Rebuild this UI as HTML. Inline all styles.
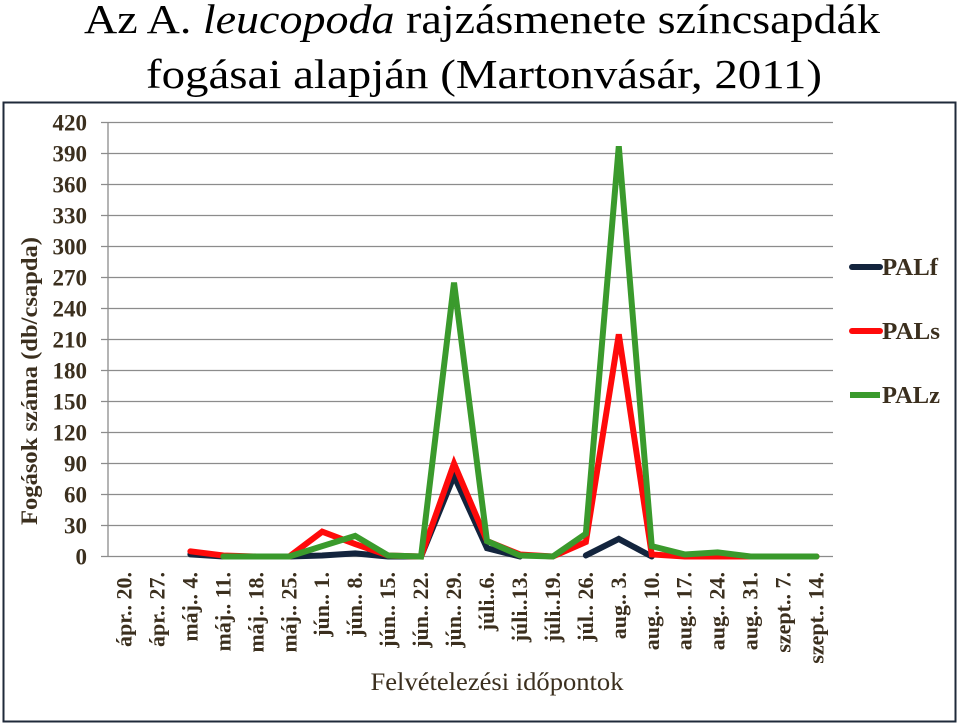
<!DOCTYPE html>
<html><head><meta charset="utf-8"><style>
body{margin:0;background:#fff;}
svg{display:block;font-family:"Liberation Serif",serif;}
</style></head><body>
<svg width="960" height="725">
<rect x="3.5" y="102.5" width="952" height="619" fill="none" stroke="#1f2a3a" stroke-width="2"/>
<text x="482" y="33" font-size="41" text-anchor="middle" fill="#000" textLength="796" lengthAdjust="spacingAndGlyphs">Az A. <tspan font-style="italic">leucopoda</tspan> rajzásmenete színcsapdák</text>
<text x="484" y="88" font-size="41" text-anchor="middle" fill="#000" textLength="676" lengthAdjust="spacingAndGlyphs">fogásai alapján (Martonvásár, 2011)</text>
<g id="grid"></g><g id="yt"></g><g id="xt"></g><g id="series"></g>
<text transform="translate(37,381) rotate(-90)" font-size="23" font-weight="bold" text-anchor="middle" fill="#3b2f1e" textLength="288" lengthAdjust="spacingAndGlyphs">Fogások száma (db/csapda)</text>
<text x="497" y="690" font-size="25" text-anchor="middle" fill="#3b2f1e" textLength="253" lengthAdjust="spacingAndGlyphs">Felvételezési időpontok</text>
<g>
<line x1="852" y1="267" x2="880" y2="267" stroke="#13243d" stroke-width="6" stroke-linecap="round"/>
<text x="882" y="275" font-size="24" font-weight="bold" fill="#3b2f1e" textLength="56" lengthAdjust="spacingAndGlyphs">PALf</text>
<line x1="852" y1="331" x2="880" y2="331" stroke="#ff0a0a" stroke-width="6" stroke-linecap="round"/>
<text x="882" y="339" font-size="24" font-weight="bold" fill="#3b2f1e" textLength="58" lengthAdjust="spacingAndGlyphs">PALs</text>
<line x1="850" y1="395" x2="880" y2="395" stroke="#3a9a2c" stroke-width="6"/>
<text x="882" y="403" font-size="24" font-weight="bold" fill="#3b2f1e" textLength="58" lengthAdjust="spacingAndGlyphs">PALz</text>
</g>
</svg>
<script>
const categories=["ápr.. 20.","ápr.. 27.","máj.. 4.","máj.. 11.","máj.. 18.","máj.. 25.","jún.. 1.","jún.. 8.","jún.. 15.","jún.. 22.","jún.. 29.","júli..6.","júli..13.","júli..19.","júl.. 26.","aug.. 3.","aug.. 10.","aug.. 17.","aug.. 24.","aug.. 31.","szept.. 7.","szept.. 14."];
const yTicks=[0,30,60,90,120,150,180,210,240,270,300,330,360,390,420];
const palf=[null,null,2,0,0,0,1,3,0,0,78,8,0,null,1,17,0,null,null,null,null,null];
const pals=[null,null,5,1,0,0,24,12,1,0,90,15,2,0,14,215,2,0,0,0,0,0];
const palz=[null,null,null,0,0,0,10,20,1,0,265,15,1,0,22,397,10,2,4,0,0,0];
const NS="http://www.w3.org/2000/svg";
const L=108,R=833,T=122.5,B=556.5,YMAX=420;
const xs=i=>L+(i+0.5)*(R-L)/categories.length;
const ys=v=>B-(v/YMAX)*(B-T);
function mk(t,a,p){const e=document.createElementNS(NS,t);for(const k in a)e.setAttribute(k,a[k]);p.appendChild(e);return e;}
const g=document.getElementById('grid'),yt=document.getElementById('yt'),xt=document.getElementById('xt'),sg=document.getElementById('series');
yTicks.forEach(v=>{
 const l=mk('line',{x1:101,x2:R,y1:ys(v),y2:ys(v),stroke:'#8c8c8c','stroke-width':1.3},g);
 
 
 const t=mk('text',{x:87,y:ys(v)+8,'font-size':23,'font-weight':'bold','text-anchor':'end',fill:'#3b2f1e'},yt);
 t.textContent=v;
 
 
});
const ax=mk('line',{x1:L,x2:L,y1:T,y2:B,stroke:'#8c8c8c','stroke-width':1.3},g);


categories.forEach((c,i)=>{
 const t=mk('text',{transform:`translate(${xs(i)+7},572) rotate(-90)`,'font-size':22,'font-weight':'bold','text-anchor':'end',fill:'#3b2f1e'},xt);
 t.textContent=c;
 
 
});
function draw(d,col,name){
 let seg=[];const segs=[];
 d.forEach((v,i)=>{if(v===null){if(seg.length)segs.push(seg);seg=[];}else seg.push(xs(i)+','+ys(v));});
 if(seg.length)segs.push(seg);
 segs.forEach(s=>{
  const p=mk('polyline',{points:s.join(' '),fill:'none',stroke:col,'stroke-width':6,'stroke-linejoin':'miter','stroke-linecap':'round'},sg);
  
  
 });
}
draw(palf,'#13243d','series-palf');
draw(pals,'#ff0a0a','series-pals');
draw(palz,'#3a9a2c','series-palz');
</script>
</body></html>
